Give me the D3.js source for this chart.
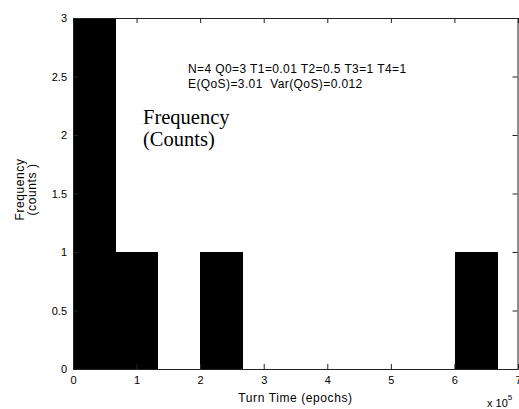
<!DOCTYPE html>
<html>
<head>
<meta charset="utf-8">
<script src="https://cdn.jsdelivr.net/npm/d3@7"></script>
<style>
  html, body { margin: 0; padding: 0; background: #fff; }
  svg { display: block; }
</style>
</head>
<body>
<svg id="chart" width="519" height="409"></svg>
<script>
// Histogram of turn times (in units of 1e5 epochs)
const binEdges = [0, 0.67, 1.34, 2.0, 2.67, 3.34, 4.01, 4.68, 5.34, 6.01, 6.68];
const binCounts = [3, 1, 0, 1, 0, 0, 0, 0, 0, 1];
const xTicks = [0, 1, 2, 3, 4, 5, 6, 7];
const yTicks = [0, 0.5, 1, 1.5, 2, 2.5, 3];
const infoLines = ["N=4 Q0=3 T1=0.01 T2=0.5 T3=1 T4=1", "E(QoS)=3.01  Var(QoS)=0.012"];
const noteLines = ["Frequency", "(Counts)"];
const yLabelLines = ["Frequency", "(counts )"];

const W = 519, H = 409;
const m = { left: 73, right: 1, top: 18, bottom: 40 };
const svg = d3.select("#chart");

const x = d3.scaleLinear().domain([0, 7]).range([m.left, W - m.right]);
const y = d3.scaleLinear().domain([0, 3]).range([H - m.bottom, m.top]);

const sans = "'Liberation Sans', Arial, sans-serif";
const serif = "'Liberation Serif', 'Times New Roman', serif";

// bars
const bins = binCounts.map((c, i) => ({ x0: binEdges[i], x1: binEdges[i + 1], c }));
svg.append("g").selectAll("rect")
  .data(bins.filter(d => d.c > 0))
  .join("rect")
  .attr("x", d => x(d.x0))
  .attr("y", d => y(d.c))
  .attr("width", d => x(d.x1) - x(d.x0))
  .attr("height", d => y(0) - y(d.c))
  .attr("fill", "#000")
  .attr("shape-rendering", "crispEdges");

// axes with inward ticks
const axisColor = "#222";
function styleAxis(g) {
  g.select(".domain").attr("stroke", axisColor);
  g.selectAll(".tick line").attr("stroke", axisColor);
  g.selectAll("text").attr("fill", "#000").style("font-family", sans).style("font-size", "11px");
}

svg.append("g")
  .attr("transform", `translate(0,${y(0)})`)
  .call(d3.axisBottom(x).tickValues(xTicks).tickFormat(d3.format("d")).tickSizeInner(-5).tickSizeOuter(0).tickPadding(7))
  .call(styleAxis);

svg.append("g")
  .attr("transform", `translate(0,${y(3)})`)
  .call(d3.axisTop(x).tickValues(xTicks).tickFormat("").tickSizeInner(-5).tickSizeOuter(0))
  .call(styleAxis);

svg.append("g")
  .attr("transform", `translate(${x(0)},0)`)
  .call(d3.axisLeft(y).tickValues(yTicks).tickFormat(d => d).tickSizeInner(-5).tickSizeOuter(0).tickPadding(6))
  .call(styleAxis);

svg.append("g")
  .attr("transform", `translate(${x(7) - 0.5},0)`)
  .call(d3.axisRight(y).tickValues(yTicks).tickFormat("").tickSizeInner(-5).tickSizeOuter(0))
  .call(styleAxis);

// axis titles
svg.append("text")
  .attr("x", (x(0) + x(7)) / 2)
  .attr("y", 402)
  .attr("text-anchor", "middle")
  .style("font-family", sans).style("font-size", "12px").style("letter-spacing", "0.6px")
  .text("Turn Time (epochs)");

const exp = svg.append("text")
  .attr("x", 487).attr("y", 407)
  .style("font-family", sans).style("font-size", "11px");
exp.append("tspan").text("x 10");
exp.append("tspan").attr("dy", -7).style("font-size", "8px").text("5");

const ylab = svg.append("g")
  .attr("transform", `translate(0,${(y(0) + y(3)) / 2 - 4}) rotate(-90)`);
ylab.selectAll("text")
  .data(yLabelLines)
  .join("text")
  .attr("x", 0)
  .attr("y", (d, i) => 24 + i * 12)
  .attr("text-anchor", "middle")
  .style("white-space", "pre")
  .style("font-family", sans).style("font-size", "12px").style("letter-spacing", "0.6px")
  .text(d => d);

// annotations
svg.append("g").selectAll("text")
  .data(infoLines)
  .join("text")
  .attr("x", 188)
  .attr("y", (d, i) => 73 + i * 15)
  .style("white-space", "pre")
  .style("font-family", sans).style("font-size", "12px").style("letter-spacing", "0.4px")
  .text(d => d);

svg.append("g").selectAll("text")
  .data(noteLines)
  .join("text")
  .attr("x", 143)
  .attr("y", (d, i) => 124 + i * 22)
  .style("font-family", serif).style("font-size", "20.5px")
  .text(d => d);
</script>
</body>
</html>
